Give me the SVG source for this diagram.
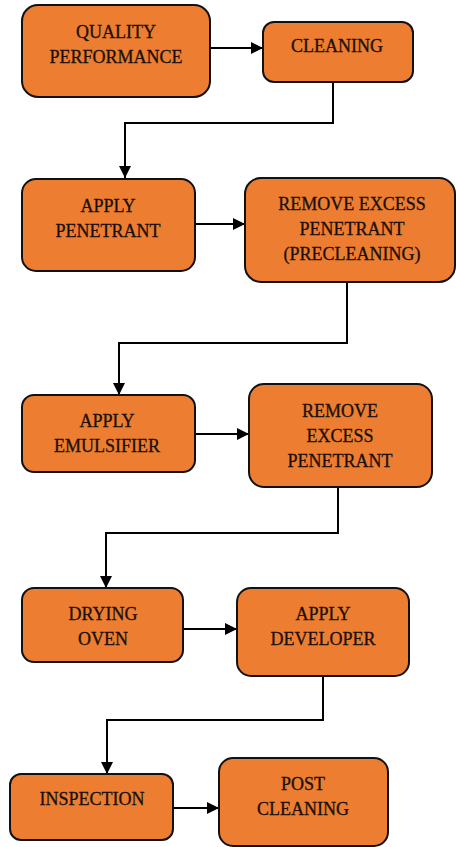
<svg xmlns="http://www.w3.org/2000/svg" width="456" height="847" viewBox="0 0 456 847">
<defs>
<marker id="ah" markerWidth="12" markerHeight="12" refX="12" refY="6" orient="auto" markerUnits="userSpaceOnUse" viewBox="0 0 12 12">
<path d="M0,0 L12,6 L0,12 Z" fill="#000"/>
</marker>
<style>
.box{fill:#ED7D31;stroke:#111;stroke-width:2}
.t{font-family:"Liberation Serif","Times New Roman",serif;font-size:18px;fill:#1a1008;stroke:#1a1008;stroke-width:0.3;text-anchor:middle}
.c{fill:none;stroke:#000;stroke-width:2;marker-end:url(#ah)}
</style>
</defs>
<rect width="456" height="847" fill="#fff"/>
<g id="connectors">
<path class="c" d="M210,48 H263"/>
<path class="c" d="M333,82 V123 H125 V178"/>
<path class="c" d="M195,224 H245"/>
<path class="c" d="M347,282 V343 H119 V395"/>
<path class="c" d="M195,434 H249"/>
<path class="c" d="M338,487 V533 H106 V588"/>
<path class="c" d="M183,629 H237"/>
<path class="c" d="M323,676 V720 H107 V774"/>
<path class="c" d="M173,808 H219"/>
</g>
<g id="n1"><rect class="box" x="22" y="5" width="188" height="92" rx="16"/><text class="t" x="116" y="38">QUALITY</text><text class="t" x="116" y="63">PERFORMANCE</text></g>
<g id="n2"><rect class="box" x="263" y="22" width="150" height="60" rx="11"/><text class="t" x="337" y="52">CLEANING</text></g>
<g id="n3"><rect class="box" x="22" y="179" width="173" height="92" rx="14"/><text class="t" x="108" y="212">APPLY</text><text class="t" x="108" y="237">PENETRANT</text></g>
<g id="n4"><rect class="box" x="245" y="178" width="210" height="104" rx="16"/><text class="t" x="352" y="210">REMOVE EXCESS</text><text class="t" x="352" y="235">PENETRANT</text><text class="t" x="352" y="260">(PRECLEANING)</text></g>
<g id="n5"><rect class="box" x="22" y="395" width="173" height="77" rx="12"/><text class="t" x="107" y="427">APPLY</text><text class="t" x="107" y="452">EMULSIFIER</text></g>
<g id="n6"><rect class="box" x="249" y="384" width="183" height="103" rx="15"/><text class="t" x="340" y="417">REMOVE</text><text class="t" x="340" y="442">EXCESS</text><text class="t" x="340" y="467">PENETRANT</text></g>
<g id="n7"><rect class="box" x="22" y="588" width="161" height="74" rx="12"/><text class="t" x="103" y="620">DRYING</text><text class="t" x="103" y="645">OVEN</text></g>
<g id="n8"><rect class="box" x="237" y="588" width="172" height="88" rx="14"/><text class="t" x="323" y="620">APPLY</text><text class="t" x="323" y="645">DEVELOPER</text></g>
<g id="n9"><rect class="box" x="10" y="774" width="163" height="66" rx="11"/><text class="t" x="92" y="805">INSPECTION</text></g>
<g id="n10"><rect class="box" x="219" y="758" width="169" height="88" rx="14"/><text class="t" x="303" y="790">POST</text><text class="t" x="303" y="815">CLEANING</text></g>
</svg>
